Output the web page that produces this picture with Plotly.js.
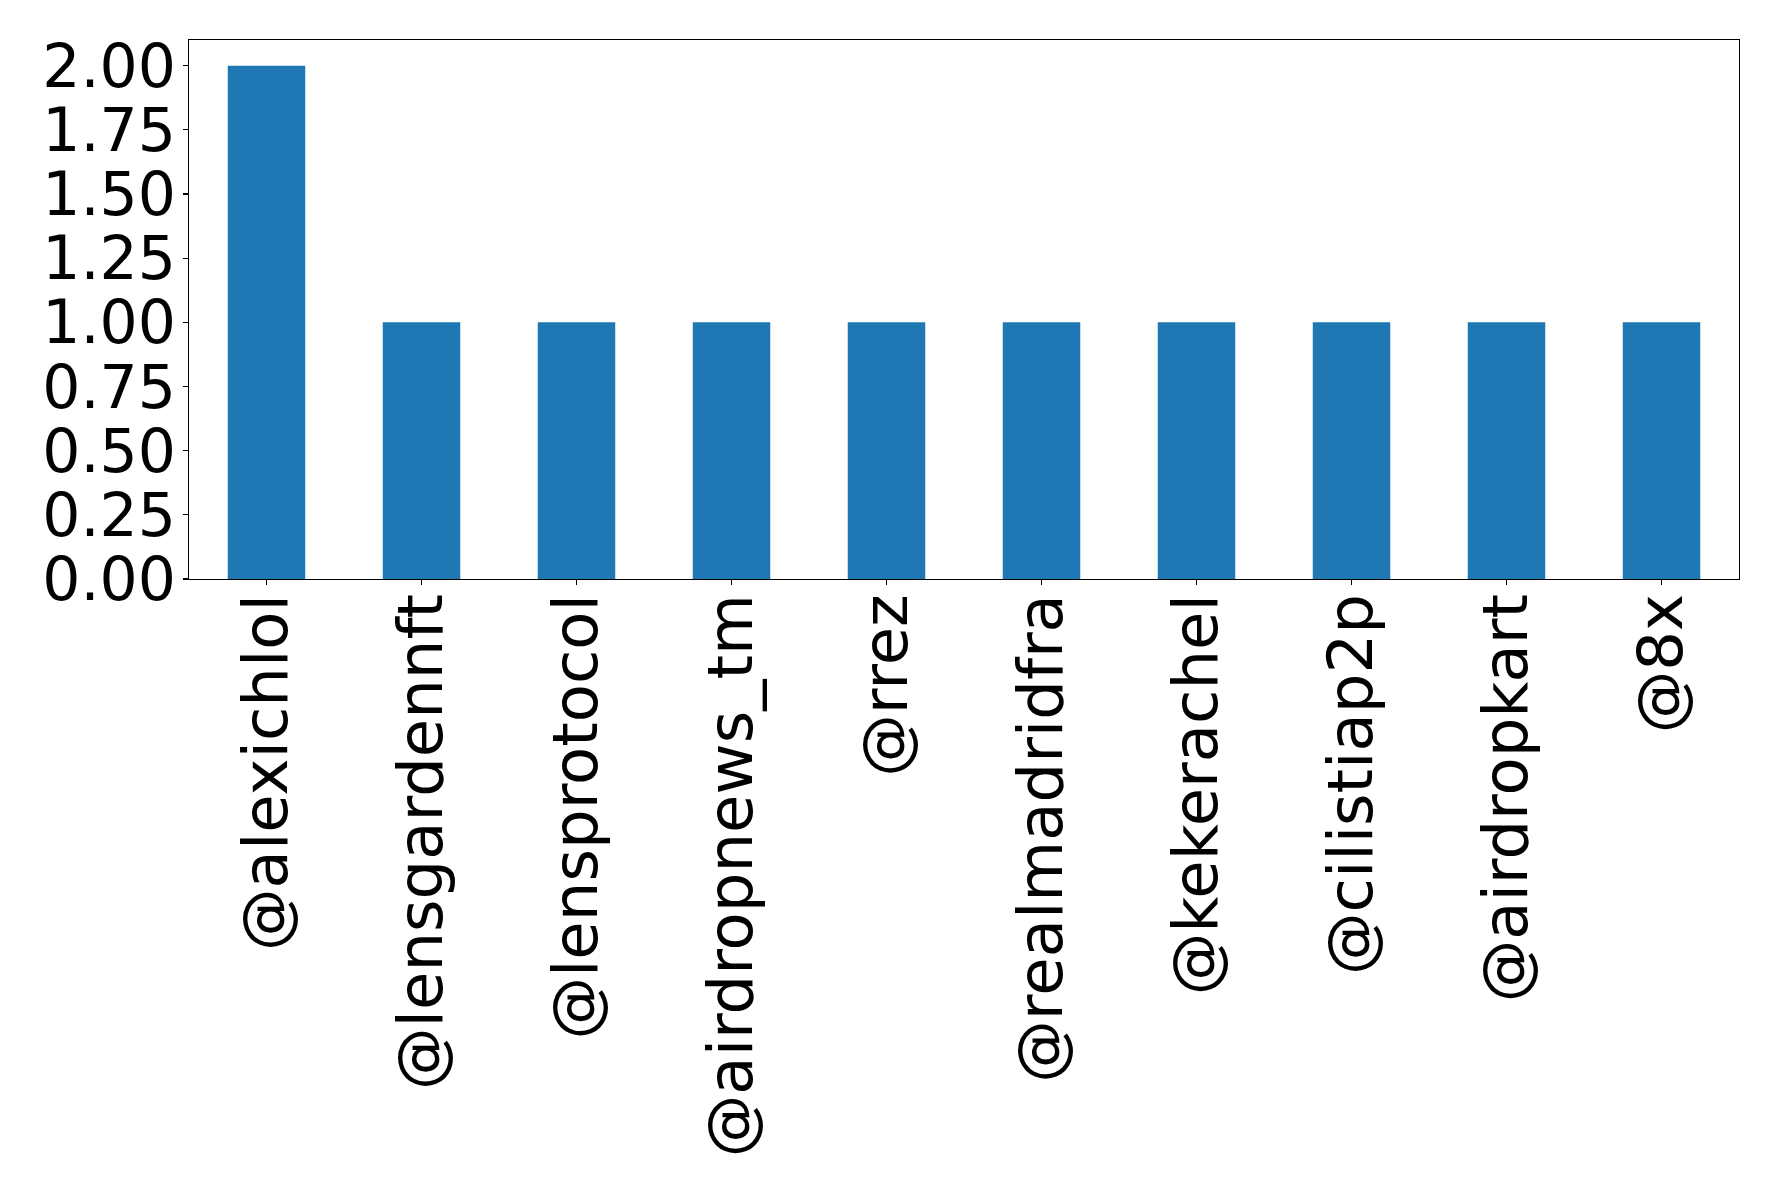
<!DOCTYPE html>
<html>
<head>
<meta charset="utf-8">
<script src="https://cdn.plot.ly/plotly-3.0.1.min.js"></script>
<style>html,body{margin:0;padding:0;background:#fff;}#chart{width:1778px;height:1191px;}</style>
</head>
<body>
<div id="chart"></div>
<script>
const categories = ["@alexichlol","@lensgardennft","@lensprotocol","@airdropnews_tm","@rrez","@realmadridfra","@kekerachel","@cilistiap2p","@airdropkart","@8x"];
const counts = [2,1,1,1,1,1,1,1,1,1];
const yTickVals = [0,0.25,0.5,0.75,1,1.25,1.5,1.75,2];
const yTickText = ["0.00","0.25","0.50","0.75","1.00","1.25","1.50","1.75","2.00"];

const trace = {
  type: 'bar',
  x: categories,
  y: counts,
  marker: {color: '#1f77b4'},
  hoverinfo: 'x+y'
};
const axisCommon = {
  showline: true, linecolor: '#000', linewidth: 1.1, mirror: true,
  ticks: 'outside', ticklen: 5, tickwidth: 1.1, tickcolor: '#000',
  showgrid: false, zeroline: false
};
const layout = {
  width: 1778, height: 1191,
  margin: {l: 189, r: 39, t: 40, b: 612},
  paper_bgcolor: '#fff', plot_bgcolor: '#fff',
  bargap: 0.5,
  showlegend: false,
  xaxis: Object.assign({}, axisCommon, {
    type: 'category', range: [-0.5, 9.5], tickangle: -90, automargin: false, ticklabelstandoff: -16,
    tickfont: {family: 'DejaVu Sans', size: 62.5, color: '#000'}
  }),
  yaxis: Object.assign({}, axisCommon, {
    range: [0, 2.1], tickvals: yTickVals, ticktext: yTickText, automargin: false, ticklabelstandoff: -5,
    tickfont: {family: 'DejaVu Sans', size: 60, color: '#000'}
  })
};
Plotly.newPlot('chart', [trace], layout, {displayModeBar: false, staticPlot: true});
</script>
</body>
</html>
